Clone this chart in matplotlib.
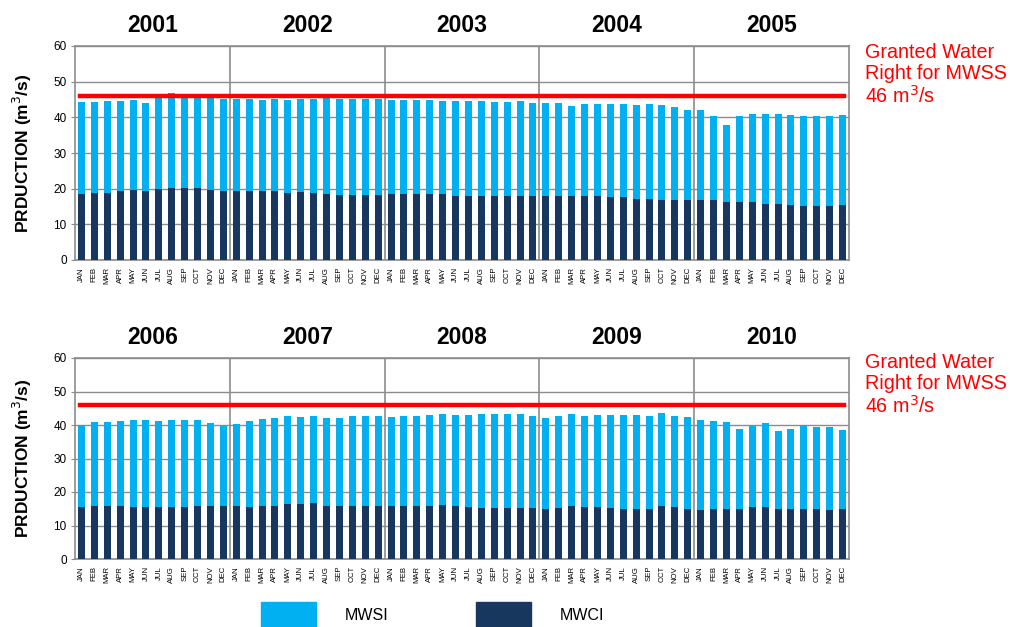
import matplotlib
matplotlib.use("Agg")
import matplotlib.pyplot as plt
from matplotlib.patches import Rectangle
import numpy as np

plt.rcParams['font.family'] = ['Liberation Sans', 'DejaVu Sans']

months = ["JAN", "FEB", "MAR", "APR", "MAY", "JUN", "JUL", "AUG", "SEP", "OCT", "NOV", "DEC"]
years_top = ["2001", "2002", "2003", "2004", "2005"]
years_bottom = ["2006", "2007", "2008", "2009", "2010"]

# Monthly production, m3/s
mwci_top = [
    18.5, 18.7, 18.9, 19.4, 19.5, 19.4, 20.0, 20.2, 20.2, 20.2, 19.7, 19.4,
    19.4, 19.4, 19.4, 19.4, 18.9, 19.2, 18.7, 18.5, 18.3, 18.1, 18.1, 18.3,
    18.5, 18.5, 18.5, 18.5, 18.5, 18.0, 18.0, 18.0, 17.9, 18.0, 18.0, 18.0,
    18.0, 17.9, 17.9, 17.9, 17.9, 17.7, 17.7, 17.1, 17.1, 16.9, 16.8, 16.8,
    16.8, 16.8, 16.3, 16.2, 16.2, 15.7, 15.7, 15.4, 15.2, 15.1, 15.2, 15.4,
]
mwsi_top = [
    25.8, 25.6, 25.7, 25.2, 25.4, 24.6, 25.6, 26.6, 25.4, 25.4, 25.9, 25.8,
    25.7, 25.8, 25.5, 25.8, 26.0, 26.0, 26.5, 27.1, 26.9, 27.1, 27.1, 26.9,
    26.4, 26.4, 26.4, 26.4, 26.1, 26.5, 26.5, 26.5, 26.4, 26.3, 26.5, 26.0,
    25.9, 26.0, 25.3, 25.7, 25.7, 25.9, 25.9, 26.3, 26.5, 26.5, 26.2, 25.3,
    25.3, 23.5, 21.6, 24.1, 24.7, 25.2, 25.2, 25.3, 25.3, 25.2, 25.3, 25.3,
]
mwci_bottom = [
    15.4, 15.7, 15.7, 15.7, 15.4, 15.4, 15.4, 15.4, 15.4, 15.7, 15.9, 15.7,
    15.7, 15.4, 15.7, 15.9, 16.3, 16.3, 16.6, 15.9, 15.9, 15.9, 15.9, 15.9,
    15.7, 15.7, 15.7, 15.9, 16.1, 15.7, 15.4, 15.1, 15.1, 15.1, 15.1, 15.1,
    14.8, 15.1, 15.7, 15.4, 15.4, 15.1, 14.8, 14.8, 14.8, 15.7, 15.4, 14.8,
    14.5, 14.8, 14.8, 14.8, 15.4, 15.4, 14.8, 14.8, 14.8, 14.8, 14.5, 14.8,
]
mwsi_bottom = [
    24.6, 25.2, 25.2, 25.4, 26.0, 26.0, 25.7, 26.0, 26.0, 25.9, 24.7, 23.9,
    24.7, 25.7, 26.1, 26.1, 26.4, 26.1, 26.1, 26.3, 26.3, 26.8, 26.8, 26.8,
    26.7, 27.1, 27.1, 27.1, 27.2, 27.3, 27.6, 28.2, 28.2, 28.2, 28.2, 27.5,
    27.4, 27.5, 27.6, 27.4, 27.6, 27.9, 28.2, 28.2, 28.0, 28.0, 27.4, 27.6,
    27.0, 26.5, 26.1, 24.0, 24.2, 25.2, 23.4, 24.0, 25.3, 24.7, 25.0, 23.8,
]
granted_right = 46

c_mwsi = "#00B0F0"
c_mwci = "#17375E"
c_grid = "#8C8C8C"
c_red = "#FF0000"

fig = plt.figure(figsize=(10.10, 6.27), dpi=100)
W, H = 1010, 627


def panel(rect_px, mwci, mwsi, years, note_top_px):
    left, top, right, bottom = rect_px
    ax = fig.add_axes([left / W, 1 - bottom / H, (right - left) / W, (bottom - top) / H])
    n = len(mwci)
    x = np.arange(n)
    ax.bar(x, mwci, width=0.55, color=c_mwci, zorder=3)
    ax.bar(x, mwsi, bottom=mwci, width=0.55, color=c_mwsi, zorder=3)
    ax.set_xlim(-0.5, n - 0.5)
    ax.set_ylim(0, 60)
    ax.set_yticks(range(0, 61, 10))
    ax.yaxis.grid(True, color=c_grid, linewidth=1.0, zorder=0)
    for k in range(1, len(years)):
        ax.axvline(12 * k - 0.5, color=c_grid, linewidth=1.2, zorder=1)
    ax.axhline(granted_right, xmin=0.007, xmax=0.993, color=c_red, linewidth=3.2, zorder=4)
    ax.set_xticks(x)
    ax.set_xticklabels(months * len(years), rotation=90, fontsize=5.6)
    ax.tick_params(axis='x', length=0, pad=5)
    ax.tick_params(axis='y', labelsize=8.5, length=3, color=c_grid, pad=3)
    for s in ax.spines.values():
        s.set_color(c_grid)
        s.set_linewidth(1.2)
    ax.set_ylabel("PRDUCTION (m$^3$/s)", fontsize=12.5, fontweight='bold', labelpad=14)
    for k, yr in enumerate(years):
        ax.annotate(yr, xy=(12 * k + 5.5, 1), xycoords=('data', 'axes fraction'),
                    xytext=(0, 10), textcoords='offset points', ha='center',
                    va='baseline', fontsize=16.5, fontweight='bold')
    fig.text(865 / W, 1 - note_top_px / H, "Granted Water\nRight for MWSS\n46 m$^3$/s",
             color=c_red, fontsize=14.2, va='top', ha='left', linespacing=1.13)
    return ax


panel((75, 46, 849, 260), mwci_top, mwsi_top, years_top, 43)
panel((75, 358, 849, 559), mwci_bottom, mwsi_bottom, years_bottom, 353)

# Legend along the bottom
for (x0, color, label) in [(261, c_mwsi, "MWSI"), (476, c_mwci, "MWCI")]:
    fig.add_artist(Rectangle((x0 / W, 1 - 627 / H), 55 / W, 25 / H,
                             transform=fig.transFigure, color=color))
    fig.text((x0 + 84) / W, 1 - 616 / H, label, fontsize=11.5, va='center', ha='left')

fig.savefig("out.png", dpi=100)
